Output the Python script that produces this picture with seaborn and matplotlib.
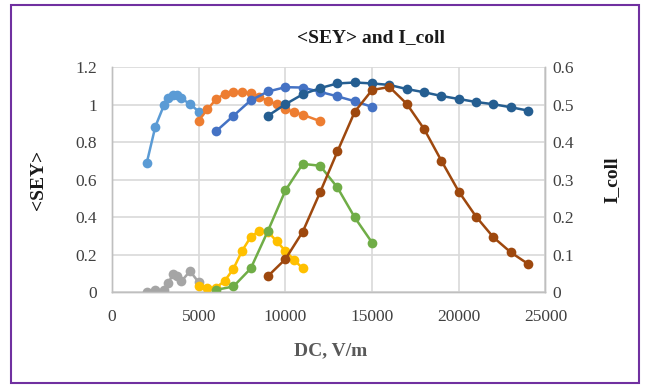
import matplotlib
matplotlib.use("Agg")
import matplotlib.pyplot as plt
import seaborn as sns
from matplotlib.patches import Rectangle

# ---- data (left axis: <SEY>) ----
x_lb = [2000, 2500, 3000, 3250, 3500, 3750, 4000, 4500, 5000]
sey_lb = [0.69, 0.885, 1.0, 1.038, 1.055, 1.055, 1.035, 1.005, 0.965]

x_or = [5000, 5500, 6000, 6500, 7000, 7500, 8000, 8500, 9000, 9500, 10000, 10500, 11000, 12000]
sey_or = [0.916, 0.977, 1.03, 1.06, 1.068, 1.068, 1.062, 1.04, 1.023, 1.003, 0.978, 0.962, 0.948, 0.914]

x_bl = [6000, 7000, 8000, 9000, 10000, 11000, 12000, 13000, 14000, 15000]
sey_bl = [0.86, 0.942, 1.025, 1.072, 1.095, 1.093, 1.07, 1.046, 1.02, 0.99]

x_db = [9000, 10000, 11000, 12000, 13000, 14000, 15000, 16000, 17000, 18000,
        19000, 20000, 21000, 22000, 23000, 24000]
sey_db = [0.943, 1.004, 1.057, 1.09, 1.115, 1.12, 1.115, 1.107, 1.085, 1.068,
          1.048, 1.032, 1.016, 1.004, 0.988, 0.97]

# ---- data (right axis: I_coll) ----
x_gr = [2000, 2500, 3000, 3250, 3500, 3750, 4000, 4500, 5000]
i_gr = [0.0, 0.007, 0.006, 0.025, 0.048, 0.043, 0.03, 0.057, 0.027]

x_ye = [5000, 5500, 6000, 6500, 7000, 7500, 8000, 8500, 9000, 9500, 10000, 10500, 11000]
i_ye = [0.018, 0.013, 0.013, 0.031, 0.063, 0.111, 0.148, 0.165, 0.162, 0.136, 0.111, 0.087, 0.064]

x_gn = [6000, 7000, 8000, 9000, 10000, 11000, 12000, 13000, 14000, 15000]
i_gn = [0.007, 0.016, 0.064, 0.165, 0.272, 0.343, 0.338, 0.28, 0.2, 0.133]

x_br = [9000, 10000, 11000, 12000, 13000, 14000, 15000, 16000, 17000, 18000,
        19000, 20000, 21000, 22000, 23000, 24000]
i_br = [0.044, 0.089, 0.162, 0.267, 0.376, 0.482, 0.54, 0.548, 0.503, 0.436,
        0.351, 0.269, 0.202, 0.147, 0.107, 0.076]

x_ticks = [0, 5000, 10000, 15000, 20000, 25000]
left_ticks = [0, 0.2, 0.4, 0.6, 0.8, 1.0, 1.2]
left_labels = ["0", "0.2", "0.4", "0.6", "0.8", "1", "1.2"]
right_ticks = [0, 0.1, 0.2, 0.3, 0.4, 0.5, 0.6]
right_labels = ["0", "0.1", "0.2", "0.3", "0.4", "0.5", "0.6"]

sns.set_theme(style="white")
plt.rcParams["font.family"] = ["Liberation Serif", "DejaVu Serif"]

fig = plt.figure(figsize=(6.49, 3.87), dpi=100)
ax = fig.add_axes([0.1726, 0.2442, 0.8405 - 0.1726, 0.8256 - 0.2442])
ax2 = ax.twinx()

kw = dict(marker="o", markersize=7, markeredgewidth=0, linewidth=1.8)

for xs, ys, c in [(x_lb, sey_lb, "#5B9BD5"), (x_or, sey_or, "#ED7D31"),
                  (x_bl, sey_bl, "#4472C4"), (x_db, sey_db, "#255E91")]:
    sns.lineplot(x=xs, y=ys, ax=ax, color=c, **kw)

for xs, ys, c in [(x_gr, i_gr, "#A5A5A5"), (x_ye, i_ye, "#FFC000"),
                  (x_gn, i_gn, "#70AD47"), (x_br, i_br, "#9E480E")]:
    sns.lineplot(x=xs, y=ys, ax=ax2, color=c, **kw)

ax.set_xlim(0, 25000)
ax.set_ylim(0, 1.2)
ax2.set_ylim(0, 0.6)
ax.set_xticks(x_ticks)
ax.set_xticklabels([str(t) for t in x_ticks], fontsize=12.5, color="#404040")
ax.set_yticks(left_ticks)
ax.set_yticklabels(left_labels, fontsize=12.5, color="#404040")
ax2.set_yticks(right_ticks)
ax2.set_yticklabels(right_labels, fontsize=12.5, color="#404040")

ax.grid(True, color="#D9D9D9", linewidth=1.2)
ax.set_axisbelow(True)
for a in (ax, ax2):
    a.spines["top"].set_visible(False)
    for s in ["left", "right", "bottom"]:
        a.spines[s].set_color("#BFBFBF")
        a.spines[s].set_linewidth(1.0)
ax.tick_params(axis="y", length=0, pad=11)
ax.tick_params(axis="x", length=0, pad=12)
ax2.tick_params(axis="y", length=0, pad=5)

ax.set_xlabel("")
ax.set_ylabel("")
ax2.set_ylabel("")

fig.text(0.572, 0.902, "<SEY> and I_coll", ha="center", va="center",
         fontsize=14, fontweight="bold", color="#1a1a1a")
fig.text(0.06, 0.535, "<SEY>", ha="center", va="center", rotation=90,
         fontsize=14, fontweight="bold", color="#1a1a1a")
fig.text(0.943, 0.535, "I_coll", ha="center", va="center", rotation=90,
         fontsize=14, fontweight="bold", color="#1a1a1a")
fig.text(0.51, 0.095, "DC, V/m", ha="center", va="center",
         fontsize=14, fontweight="bold", color="#595959")

fig.patches.append(Rectangle((0.017, 0.01), 0.968, 0.978, transform=fig.transFigure,
                             fill=False, edgecolor="#7030A0", linewidth=1.5))

fig.savefig("out.png", dpi=100)
